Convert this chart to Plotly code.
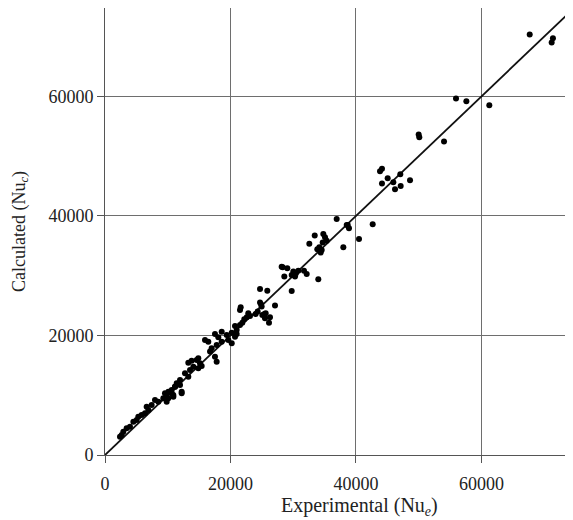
import plotly.graph_objects as go

# Experimental (Nu_e) vs Calculated (Nu_c)
nu_experimental = [
    2390, 2660, 2920, 3450, 3980, 4520, 5050, 5310, 5840, 6380, 6640, 6910, 7440, 7970, 8500,
    9300, 9560, 9830, 9830, 10100, 10100, 10630, 10630, 10890, 10900, 11160, 11160, 11430,
    11960, 11960, 12220, 12220, 12750, 13280, 13280, 13550, 13810, 14080, 14610, 14870,
    14870, 15140, 15410, 15940, 16470, 16740, 17000, 17530, 17530, 17800, 17800, 18060,
    18600, 18600, 19400, 19660, 20200, 20200, 20720, 20720, 20990, 20990, 21520, 21520,
    21630, 21890, 22200, 22590, 22840, 23110, 24010, 24330, 24710, 24710, 24870, 24970,
    25080, 25400, 25500, 25610, 25870, 26140, 26300, 27100, 28160, 28320, 28580, 29060,
    29760, 29760, 30020, 30290, 30450, 30810, 31720, 32150, 32570, 33430, 33840, 34000,
    34160, 34380, 34540, 34700, 34800, 35070, 35340, 36930, 37990, 38530, 38690, 38890,
    40490, 42670, 43840, 44150, 44150, 45060, 45960, 46230, 47070, 47130, 48620, 50000,
    50100, 54040, 55950, 57600, 61260, 67700, 71200, 71400,
]
nu_calculated = [
    3070, 3350, 3910, 4460, 4740, 5580, 5860, 6420, 6700, 6980, 8090, 7530, 8370, 9210, 8930,
    9490, 10330, 9770, 8920, 10600, 9490, 10880, 10330, 10050, 9760, 11440, 11430, 12000,
    12560, 11720, 10600, 10330, 13680, 15450, 13110, 14230, 15790, 14780, 15900, 16190,
    14510, 15350, 14900, 19250, 18970, 17300, 17860, 20250, 16460, 18410, 15620, 19700,
    20640, 18970, 20090, 19250, 20470, 18700, 19800, 21590, 20250, 20930, 24270, 21760,
    24720, 22150, 22720, 23050, 23720, 23270, 23600, 24000, 27790, 25500, 25220, 24830,
    23440, 23600, 22880, 23720, 27500, 22150, 23050, 25000, 31520, 31420, 29850, 31250,
    30130, 27450, 30690, 29850, 30410, 30850, 30850, 30300, 35370, 36710, 34430, 29410,
    34770, 33870, 34320, 35540, 37000, 36440, 35870, 39500, 34770, 38500, 38500, 37950,
    36160, 38620, 47490, 47880, 45420, 46320, 45650, 44480, 46990, 45030, 45980, 53630,
    53180, 52450, 59650, 59200, 58540, 70360, 69020, 69750,
]
parity_line = [0, 75000]

x_ticks = [0, 20000, 40000, 60000]
y_ticks = [0, 20000, 40000, 60000]

font_family = "Liberation Serif, Times New Roman, serif"
text_color = "#222222"
grid_color = "#6e6e6e"
axis_color = "#555555"

fig = go.Figure()
fig.add_trace(go.Scatter(
    x=parity_line, y=parity_line, mode="lines",
    line=dict(color="#111111", width=1.8), hoverinfo="skip", showlegend=False,
))
fig.add_trace(go.Scatter(
    x=nu_experimental, y=nu_calculated, mode="markers",
    marker=dict(color="#000000", size=6, line=dict(width=0)), showlegend=False,
))

# the page body adds an 8px offset, so the figure is 8px smaller than the window
fig.update_layout(
    width=565, height=512,
    margin=dict(l=97, r=0, t=0, b=65, autoexpand=False),
    paper_bgcolor="white", plot_bgcolor="white",
    font=dict(family=font_family, size=18, color=text_color),
    xaxis=dict(
        range=[0, 74600], tickvals=x_ticks, ticktext=[str(v) for v in x_ticks],
        showgrid=True, gridcolor=grid_color, gridwidth=1, zeroline=False,
        showline=True, linecolor=axis_color, linewidth=1, mirror=True,
        ticks="outside", ticklen=7, tickcolor=axis_color, tickwidth=1,
        ticklabelstandoff=5,
        automargin=False,
    ),
    yaxis=dict(
        range=[0, 74800], tickvals=y_ticks, ticktext=[str(v) for v in y_ticks],
        showgrid=True, gridcolor=grid_color, gridwidth=1, zeroline=False,
        showline=True, linecolor=axis_color, linewidth=1, mirror=False,
        ticks="outside", ticklen=7, tickcolor=axis_color, tickwidth=1,
        ticklabelstandoff=0,
        title=dict(text="Calculated (Nu<sub><i>c</i></sub>)", standoff=18,
                   font=dict(size=18)),
        automargin=False,
    ),
    annotations=[dict(
        text="Experimental (Nu<sub><i>e</i></sub>)",
        xref="paper", yref="paper", x=0.543, y=-0.116,
        xanchor="center", yanchor="middle", showarrow=False,
        font=dict(size=20, family=font_family, color=text_color),
    )],
)

fig.write_html("out.html")
